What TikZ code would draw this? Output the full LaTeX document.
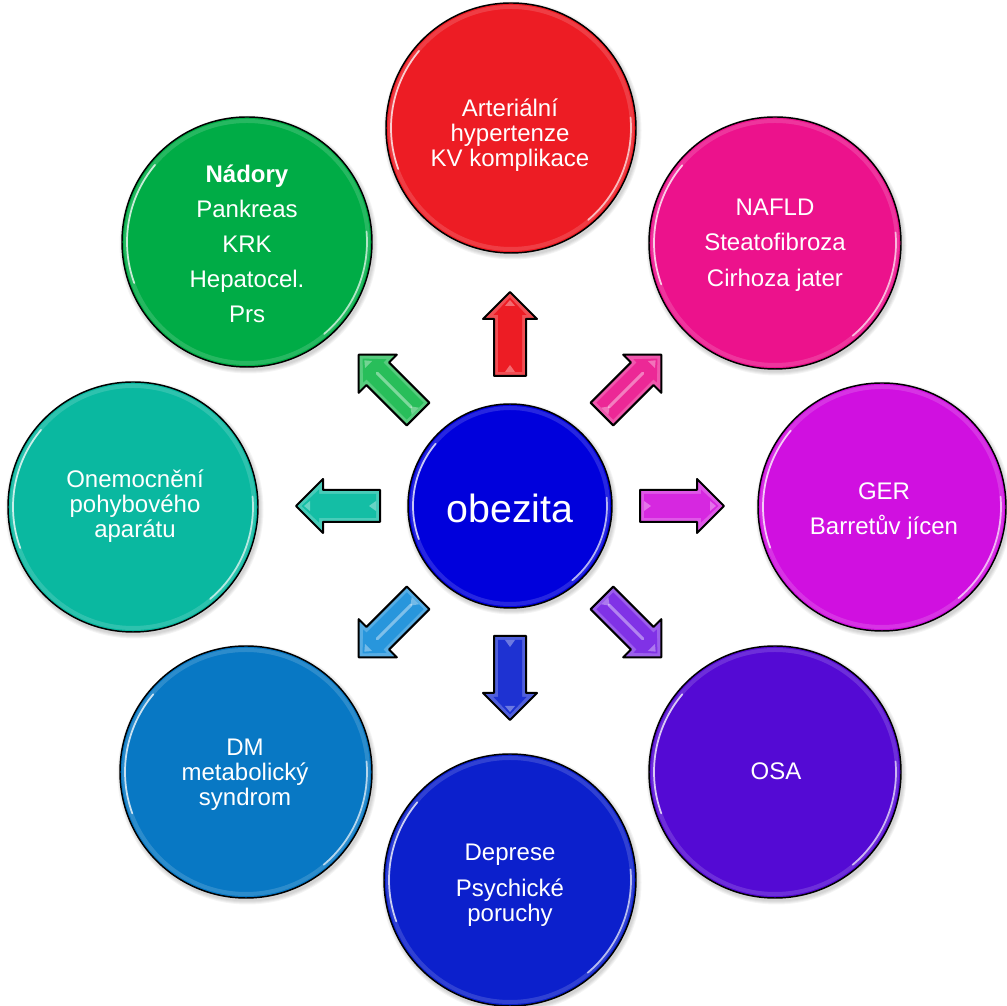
\documentclass[tikz,border=0pt]{standalone}
\usepackage{fontspec}
\setmainfont{Liberation Sans}
\usetikzlibrary{calc}

% disc colours
\definecolor{cCore}{RGB}{0,0,220}
\definecolor{cRed}{RGB}{237,28,36}
\definecolor{cPink}{RGB}{236,18,140}
\definecolor{cMag}{RGB}{208,16,224}
\definecolor{cPurp}{RGB}{84,10,212}
\definecolor{cBlue}{RGB}{12,32,204}
\definecolor{cSky}{RGB}{8,120,196}
\definecolor{cTeal}{RGB}{10,184,160}
\definecolor{cGreen}{RGB}{0,172,70}
% arrow colours
\definecolor{aRed}{RGB}{237,28,36}
\definecolor{aPink}{RGB}{236,40,150}
\definecolor{aMag}{RGB}{214,40,224}
\definecolor{aPurp}{RGB}{128,50,230}
\definecolor{aBlue}{RGB}{30,50,210}
\definecolor{aSky}{RGB}{40,150,220}
\definecolor{aTeal}{RGB}{20,190,165}
\definecolor{aGreen}{RGB}{40,190,90}

\tikzset{
  bubble/.style={circle, draw=black, line width=1.1pt, inner sep=0pt},
  lbl/.style={text=white, align=center, inner sep=0pt,
              font=\fontsize{18}{18.75}\selectfont},
  pics/barrow/.style={code={
    \fill[#1!78!white] (-42,-16) -- (15,-16) -- (15,-27) -- (42,0)
          -- (15,27) -- (15,16) -- (-42,16) -- cycle;
    \fill[#1] (-38,-12) -- (19,-12) -- (19,-16.5) -- (36.5,0)
          -- (19,16.5) -- (19,12) -- (-38,12) -- cycle;
    \fill[white, opacity=0.35] (-38,-5) -- (-31,0) -- (-38,5) -- cycle;
    \fill[white, opacity=0.35] (28,-5) -- (34,0) -- (28,5) -- cycle;
    \draw[black, line width=1.5pt, line join=round]
          (-42,-16) -- (15,-16) -- (15,-27) -- (42,0)
          -- (15,27) -- (15,16) -- (-42,16) -- cycle;
  }},
  pics/bstripe/.style={code={
    \draw[white, opacity=0.4, line width=2.2pt, line cap=round] (-32,0) -- (16,0);
  }}
}

% glossy disc: name, x, y, radius, colour
\newcommand\disc[5]{%
  \foreach \k in {1,2,3,4}{\fill[black, opacity=0.045] (#2+1.5,#3-2.5) circle[radius=#4+\k];}
  \node[bubble, fill=#5, minimum size={2*#4*0.75pt}] (#1) at (#2,#3) {};
  \draw[white, opacity=0.15, line width=3pt] (#1.center) circle[radius=#4-4];
  \draw[white, opacity=0.75, line width=1.3pt, line cap=round]
    ($(#1.center)+(140:#4-5)$) arc[start angle=140, end angle=200, radius=#4-5];
  \draw[white, opacity=0.65, line width=1.3pt, line cap=round]
    ($(#1.center)+(-50:#4-5)$) arc[start angle=-50, end angle=5, radius=#4-5];
}

\begin{document}
\begin{tikzpicture}[x=0.75pt, y=0.75pt]
  \useasboundingbox (0,0) rectangle (1007,1006);
  \fill[white] (0,0) rectangle (1007,1006);

  % central disc
  \disc{ob}{510}{500}{102}{cCore}

  % outer discs
  \disc{art}{511}{878}{125}{cRed}
  \disc{naf}{775}{763}{126}{cPink}
  \disc{ger}{882}{499}{124}{cMag}
  \disc{osa}{775}{234}{126}{cPurp}
  \disc{dep}{510}{126}{126}{cBlue}
  \disc{dm}{246}{234}{126}{cSky}
  \disc{pohyb}{133}{499}{125}{cTeal}
  \disc{nad}{247}{764}{125}{cGreen}

  % block arrows from the core outwards
  \pic[rotate=90]   at ($(ob)+(90:172)$)   {barrow=aRed};
  \pic[rotate=45]   at ($(ob)+(45:172)$)   {barrow=aPink};
  \pic[rotate=45]   at ($(ob)+(45:172)$)   {bstripe};
  \pic[rotate=0]    at ($(ob)+(0:172)$)    {barrow=aMag};
  \pic[rotate=-45]  at ($(ob)+(-45:172)$)  {barrow=aPurp};
  \pic[rotate=-45]  at ($(ob)+(-45:172)$)  {bstripe};
  \pic[rotate=-90]  at ($(ob)+(-90:172)$)  {barrow=aBlue};
  \pic[rotate=-135] at ($(ob)+(-135:172)$) {barrow=aSky};
  \pic[rotate=-135] at ($(ob)+(-135:172)$) {bstripe};
  \pic[rotate=180]  at ($(ob)+(180:172)$)  {barrow=aTeal};
  \pic[rotate=135]  at ($(ob)+(135:172)$)  {barrow=aGreen};
  \pic[rotate=135]  at ($(ob)+(135:172)$)  {bstripe};

  % labels
  \node[lbl, font=\fontsize{29.5}{32}\selectfont] (ob-t) at (510,498) {obezita};
  \node[lbl] (art-t) at (510,870.5) {Arteriální\\hypertenze\\KV komplikace};
  \node[lbl] (naf-t) at (775,761) {NAFLD\\[8pt]Steatofibroza\\[8pt]Cirhoza jater};
  \node[lbl] (ger-t) at (884,495) {GER\\[7pt]Barretův jícen};
  \node[lbl] (osa-t) at (776,235) {OSA};
  \node[lbl] (dep-t) at (510,121) {Deprese\\[8pt]Psychické\\poruchy};
  \node[lbl] (dm-t) at (245,231) {DM\\metabolický\\syndrom};
  \node[lbl] (pohyb-t) at (135,500) {Onemocnění\\pohybového\\aparátu};
  \node[lbl] (nad-t) at (247,762)
    {\textbf{Nádory}\\[7.5pt]Pankreas\\[7.5pt]KRK\\[7.5pt]Hepatocel.\\[7.5pt]Prs};
\end{tikzpicture}
\end{document}
